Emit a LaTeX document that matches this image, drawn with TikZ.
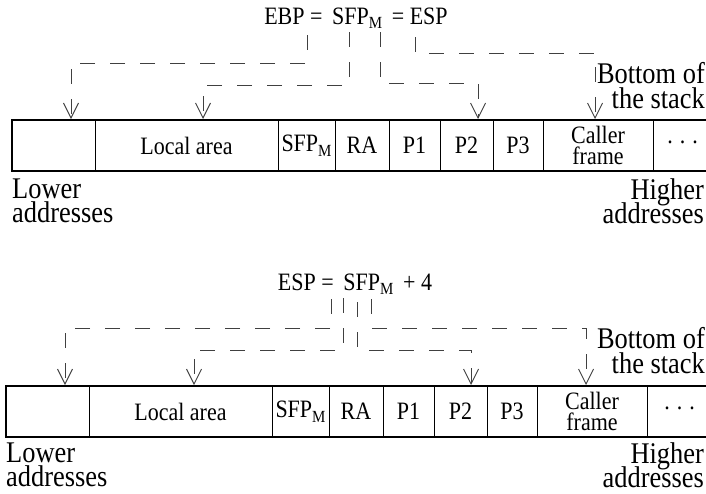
\documentclass[tikz,border=0pt]{standalone}
\usepackage{fontspec}
\setmainfont{Liberation Serif}[FakeStretch=0.88]
\usetikzlibrary{arrows.meta}
\newcommand{\subM}{\raisebox{-4.5pt}{\fontsize{17}{17}\selectfont M}}
\newcommand{\threedots}{\raisebox{6pt}{.\hspace{7pt}.\hspace{7pt}.}}
\lineskiplimit=-50pt
\begin{document}
\begin{tikzpicture}[x=1pt,y=-1pt,
  cell/.style={draw, line width=0.9pt, minimum height=51pt, inner sep=0pt,
    font=\fontsize{25}{21}\selectfont, align=center},
  frame/.style={draw, line width=1.8pt, minimum height=51pt, inner sep=0pt},
  conn/.style={draw=black!75, line width=0.9pt, dash pattern=on 15pt off 15pt,
    -{Straight Barb[length=15pt,width=15pt,line width=0.9pt]}},
  biglabel/.style={font=\fontsize{30}{24}\selectfont, inner sep=0pt},
  stacklabel/.style={font=\fontsize{30}{25}\selectfont, inner sep=0pt,
    align=right, anchor=north east},
  eqlabel/.style={font=\fontsize{25}{25}\selectfont, inner sep=0pt},
]
\useasboundingbox (0,0) rectangle (706,493);

% ---------------- top diagram ----------------
\node[eqlabel, anchor=base] (eqT) at (356,24) {EBP = \,SFP\subM{}\, = ESP};

\node[cell, minimum width=83pt]  (tc1)  at (53.5,145.5) {};
\node[cell, minimum width=183pt] (tloc) at (186.5,145.5) {Local area};
\node[cell, minimum width=57pt]  (tsfp) at (306.5,145.5) {SFP\subM};
\node[cell, minimum width=54pt]  (tra)  at (362,145.5) {RA};
\node[cell, minimum width=51pt]  (tp1)  at (414.5,145.5) {P1};
\node[cell, minimum width=53pt]  (tp2)  at (466.5,145.5) {P2};
\node[cell, minimum width=50pt]  (tp3)  at (518,145.5) {P3};
\node[cell, minimum width=110pt] (tcal) at (598,145.5) {Caller\\frame};
\node[cell, minimum width=59pt]  (tdot) at (682.5,145.5) {\threedots};
\node[frame, minimum width=700pt] (tframe) at (362,145.5) {};

\node[stacklabel] (tbot) at (705,62.5) {Bottom of\\the stack};
\node[biglabel, align=left, anchor=north west] (tlow) at (12,179) {Lower\\addresses};
\node[biglabel, align=right, anchor=north east] (thi) at (704,178.5) {Higher\\addresses};

\coordinate (ts1) at (307,35);  \coordinate (tt1) at (71,119);
\coordinate (ts2) at (349,32);  \coordinate (tt2) at (203,119);
\coordinate (ts3) at (380,32);  \coordinate (tt3) at (478,119);
\coordinate (ts4) at (415,37);  \coordinate (tt4) at (595,119);
\draw[conn] (ts1) -- ++(0,28) -| (tt1);
\draw[conn] (ts2) -- ++(0,53) -| (tt2);
\draw[conn] (ts3) -- ++(0,51) -| (tt3);
\draw[conn] (ts4) -- ++(0,16) -| (tt4);

% ---------------- bottom diagram ----------------
\node[eqlabel, anchor=base] (eqB) at (355,290) {ESP = \,SFP\subM{}\, + 4};

\node[cell, minimum width=83pt]  (bc1)  at (47.5,411.5) {};
\node[cell, minimum width=183pt] (bloc) at (180.5,411.5) {Local area};
\node[cell, minimum width=57pt]  (bsfp) at (300.5,411.5) {SFP\subM};
\node[cell, minimum width=54pt]  (bra)  at (356,411.5) {RA};
\node[cell, minimum width=51pt]  (bp1)  at (408.5,411.5) {P1};
\node[cell, minimum width=53pt]  (bp2)  at (460.5,411.5) {P2};
\node[cell, minimum width=50pt]  (bp3)  at (512,411.5) {P3};
\node[cell, minimum width=110pt] (bcal) at (592,411.5) {Caller\\frame};
\node[cell, minimum width=65pt]  (bdot) at (679.5,411.5) {\threedots};
\node[frame, minimum width=706pt] (bframe) at (359,411.5) {};

\node[stacklabel] (bbot) at (705,327.5) {Bottom of\\the stack};
\node[biglabel, align=left, anchor=north west] (blow) at (6,443) {Lower\\addresses};
\node[biglabel, align=right, anchor=north east] (bhi) at (704,442.5) {Higher\\addresses};

\coordinate (bs1) at (331,299); \coordinate (bt1) at (65,385);
\coordinate (bs2) at (343,298); \coordinate (bt2) at (194,385);
\coordinate (bs3) at (357,302); \coordinate (bt3) at (471,385);
\coordinate (bs4) at (371,299); \coordinate (bt4) at (586,385);
\draw[conn] (bs1) -- ++(0,29) -| (bt1);
\draw[conn] (bs2) -- ++(0,52) -| (bt2);
\draw[conn] (bs3) -- ++(0,48) -| (bt3);
\draw[conn] (bs4) -- ++(0,29) -| (bt4);
\end{tikzpicture}
\end{document}
